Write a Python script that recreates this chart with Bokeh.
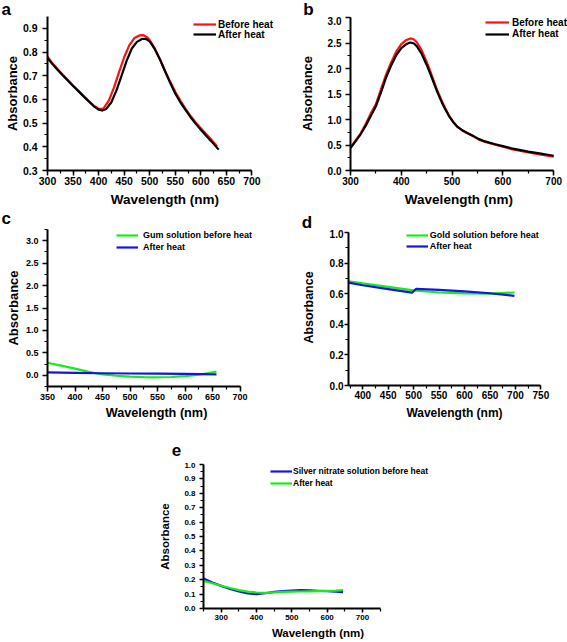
from bokeh.plotting import figure
from bokeh.models import (Range1d, SingleIntervalTicker, NumeralTickFormatter, Div,
                          Legend, LegendItem, Spacer)
from bokeh.layouts import row, column
from bokeh.embed import file_html
from bokeh.resources import INLINE

FONT = "Liberation Sans"

# ---------------- data ----------------
# Panel a
a_wl_before = [300, 310, 320, 330, 340, 350, 360, 370, 380, 390, 400, 405, 410, 420, 430, 440, 450,
               460, 470, 480, 488, 495, 500, 510, 520, 530, 540, 550, 560, 570, 580, 590, 600,
               610, 620, 632]
a_before = [0.781, 0.752, 0.727, 0.704, 0.682, 0.659, 0.638, 0.616, 0.595, 0.575, 0.561, 0.559,
            0.563, 0.595, 0.650, 0.715, 0.778, 0.828, 0.859, 0.870, 0.871, 0.862, 0.851, 0.815,
            0.768, 0.719, 0.676, 0.632, 0.595, 0.561, 0.530, 0.503, 0.478, 0.455, 0.432, 0.401]
a_wl_after = [300, 310, 320, 330, 340, 350, 360, 370, 380, 390, 400, 407, 415, 425, 435, 445, 455,
              465, 475, 485, 492, 500, 510, 520, 530, 540, 550, 560, 570, 580, 590, 600, 610,
              620, 635]
a_after = [0.774, 0.748, 0.724, 0.701, 0.679, 0.657, 0.636, 0.614, 0.593, 0.572, 0.557, 0.553,
           0.560, 0.588, 0.638, 0.700, 0.764, 0.815, 0.843, 0.855, 0.856, 0.845, 0.812, 0.770,
           0.720, 0.670, 0.625, 0.588, 0.556, 0.525, 0.498, 0.472, 0.448, 0.425, 0.388]

# Panel b
b_wl = [300, 320, 330, 340, 350, 360, 370, 380, 390, 400, 410, 418, 425, 431, 440, 450, 457, 465,
        470, 480, 486, 495, 503, 510, 520, 530, 540, 552, 565, 585, 600, 617, 635, 650, 675, 700]
b_before = [0.45, 0.73, 0.91, 1.12, 1.30, 1.59, 1.88, 2.12, 2.33, 2.48, 2.56, 2.59, 2.57, 2.51,
            2.36, 2.13, 1.95, 1.73, 1.59, 1.36, 1.23, 1.06, 0.94, 0.86, 0.785, 0.73, 0.68, 0.61,
            0.56, 0.505, 0.465, 0.42, 0.385, 0.355, 0.31, 0.27]
b_after = [0.44, 0.71, 0.88, 1.07, 1.26, 1.53, 1.82, 2.06, 2.26, 2.40, 2.48, 2.51, 2.49, 2.43,
           2.29, 2.07, 1.90, 1.69, 1.56, 1.33, 1.21, 1.05, 0.94, 0.86, 0.79, 0.735, 0.685, 0.62,
           0.57, 0.515, 0.477, 0.435, 0.40, 0.37, 0.33, 0.29]

# Panel c
c_wl_gum = [350, 375, 400, 425, 440, 450, 475, 500, 525, 545, 575, 600, 625, 645, 657]
c_gum_before = [0.28, 0.215, 0.15, 0.075, 0.04, 0.02, -0.01, -0.03, -0.042, -0.046, -0.038,
                -0.02, 0.012, 0.055, 0.085]
c_wl_after = [350, 400, 450, 500, 550, 600, 657]
c_after = [0.065, 0.055, 0.045, 0.04, 0.035, 0.03, 0.022]

# Panel d
d_wl_gold = [372, 400, 450, 500, 550, 600, 650, 698]
d_gold_before = [0.68, 0.668, 0.645, 0.622, 0.608, 0.602, 0.600, 0.608]
d_wl_after = [372, 400, 450, 497, 505, 550, 600, 650, 698]
d_after = [0.672, 0.655, 0.630, 0.607, 0.632, 0.625, 0.615, 0.603, 0.586]

# Panel e
e_wl = [250, 275, 300, 325, 350, 375, 400, 425, 450, 475, 500, 525, 550, 575, 600, 625, 645]
e_silver_before = [0.208, 0.18, 0.157, 0.135, 0.118, 0.105, 0.10, 0.106, 0.115, 0.121, 0.125,
                   0.127, 0.126, 0.123, 0.12, 0.117, 0.114]
e_after = [0.192, 0.175, 0.158, 0.142, 0.128, 0.117, 0.111, 0.109, 0.112, 0.115, 0.117, 0.118,
           0.119, 0.12, 0.122, 0.124, 0.127]

RED = "#ff1010"
BLACK = "#000000"
GREEN = "#18ec18"
BLUE = "#1414e8"


def make_panel(width, height, xr, yr, xbounds, ybounds, borders, xint, yint, tick_fs, xlab_fs,
               ylab_fs, x_std, x_lab_std, y_std, y_lab_std, tick_out=5):
    l, r, t, b = borders
    p = figure(width=width, height=height, x_range=Range1d(*xr), y_range=Range1d(*yr),
               output_backend="svg", toolbar_location=None, frame_align=False,
               min_border_left=l, min_border_right=r, min_border_top=t, min_border_bottom=b)
    p.outline_line_color = None
    p.grid.visible = False
    p.xaxis.ticker = SingleIntervalTicker(interval=xint, num_minor_ticks=2)
    p.yaxis.ticker = SingleIntervalTicker(interval=yint, num_minor_ticks=2)
    p.yaxis.formatter = NumeralTickFormatter(format="0.0")
    p.xaxis.formatter = NumeralTickFormatter(format="0")
    p.xaxis.bounds = xbounds
    p.yaxis.bounds = ybounds
    for ax in (p.xaxis, p.yaxis):
        ax.axis_line_width = 2
        ax.axis_line_color = "black"
        ax.major_tick_line_width = 1.5
        ax.minor_tick_line_width = 1.2
        ax.major_tick_in = 0
        ax.major_tick_out = tick_out
        ax.minor_tick_in = 0
        ax.minor_tick_out = 3
        ax.major_label_text_font = FONT
        ax.major_label_text_font_style = "bold"
        ax.major_label_text_font_size = tick_fs
        ax.major_label_text_color = "black"
        ax.axis_label_text_font = FONT
        ax.axis_label_text_font_style = "bold"
        ax.axis_label_text_color = "black"
    p.xaxis.axis_label = "Wavelength (nm)"
    p.yaxis.axis_label = "Absorbance"
    p.xaxis.axis_label_text_font_size = xlab_fs
    p.yaxis.axis_label_text_font_size = ylab_fs
    p.xaxis.major_label_standoff = x_std
    p.xaxis.axis_label_standoff = x_lab_std
    p.yaxis.major_label_standoff = y_std
    p.yaxis.axis_label_standoff = y_lab_std
    return p


def add_legend(p, items, x, ys, glyph_w, standoff, fs):
    for (lab, rend), y in zip(items, ys):
        lg = Legend(items=[LegendItem(label=lab, renderers=[rend])], location=(x, y))
        lg.border_line_color = None
        lg.background_fill_alpha = 0
        lg.padding = 0
        lg.spacing = 0
        lg.margin = 0
        lg.glyph_width = glyph_w
        lg.glyph_height = 12
        lg.label_height = 12
        lg.label_standoff = standoff
        lg.label_text_font = FONT
        lg.label_text_font_style = "bold"
        lg.label_text_font_size = fs
        lg.label_text_color = "black"
        p.add_layout(lg)


def strip(width, height, letter, left, top):
    html = ('<div style="margin:0;padding:0;margin-left:%.1fpx;margin-top:%.1fpx;'
            'font-family:\'Liberation Sans\';font-weight:bold;font-size:17px;'
            'line-height:10px;color:black;">%s</div>' % (left, top, letter))
    return Div(text=html, width=width, height=height, margin=0)


# ---------------- row 1 (panels a, b) ----------------
sa = strip(285, 16, "a", 1.5, 4.6)
pa = make_panel(285, 196, (300, 759.9), (0.3, 0.95), (300, 700), (0.3, 0.95), (47, 3, 0, 42),
                50, 0.1, "10.5px", "13.5px", "13px", 1, 4, 5, 0)
ra1 = pa.line(a_wl_before, a_before, line_color=RED, line_width=2.2, line_join="round")
ra2 = pa.line(a_wl_after, a_after, line_color=BLACK, line_width=2.2, line_join="round")
add_legend(pa, [("Before heat", ra1), ("After heat", ra2)], 146, [140, 130], 23, 2, "10px")

sb = strip(282, 16, "b", 18.3, 4.6)
pb = make_panel(282, 196, (300, 727.2), (0.0, 3.02), (300, 700), (0.0, 3.0), (65, 0, 0, 42),
                100, 0.5, "10px", "13.5px", "13px", 1, 4, 4, 10)
rb1 = pb.line(b_wl, b_before, line_color=RED, line_width=2.2, line_join="round")
rb2 = pb.line(b_wl, b_after, line_color=BLACK, line_width=2.2, line_join="round")
add_legend(pb, [("Before heat", rb1), ("After heat", rb2)], 135, [142, 130.5], 24, 3, "10px")

# ---------------- row 2 (panels c, d) ----------------
sc = strip(285, 17, "c", 1.5, 0.6)
pc = make_panel(285, 196, (350, 746.1), (-0.25, 3.25), (350, 700), (-0.25, 3.25), (47, 20, 0, 39),
                50, 0.5, "9px", "12.7px", "13px", 2, 3, 4, 2)
rc1 = pc.line(c_wl_gum, c_gum_before, line_color=GREEN, line_width=2.2, line_join="round")
rc2 = pc.line(c_wl_after, c_after, line_color=BLUE, line_width=2.2, line_join="round")
add_legend(pc, [("Gum solution before heat", rc1), ("After heat", rc2)], 69, [145, 133.3], 22, 5, "9px")

sd = strip(282, 17, "d", 16.7, 5.6)
pd_ = make_panel(282, 196, (372, 788.5), (0.0, 1.0196), (372, 750), (0.0, 1.0), (63, 7, 0, 40),
                 50, 0.2, "10px", "12px", "12.5px", 1, 4, 1, 11, tick_out=4)
rd1 = pd_.line(d_wl_gold, d_gold_before, line_color=GREEN, line_width=2.2, line_join="round")
rd2 = pd_.line(d_wl_after, d_after, line_color=BLUE, line_width=2.2, line_join="round")
add_legend(pd_, [("Gold solution before heat", rd1), ("After heat", rd2)], 57.7, [144, 133], 22, 2, "9px")

# ---------------- row 3 (panel e) ----------------
se = strip(300, 37, "e", 31.7, 20.8)
pe = make_panel(300, 180, (250, 898.2), (0.0, 1.0), (250, 750), (0.0, 1.0), (63, 8, 2, 34),
                100, 0.1, "8px", "11.5px", "11.5px", 2, 4, 4, 10, tick_out=4)
re1 = pe.line(e_wl, e_silver_before, line_color=BLUE, line_width=2.2, line_join="round")
re2 = pe.line(e_wl, e_after, line_color=GREEN, line_width=2.2, line_join="round")
add_legend(pe, [("Silver nitrate solution before heat", re1), ("After heat", re2)], 67, [131, 119.3],
           22, 1, "8.5px")

layout = column(
    row(column(sa, pa), column(sb, pb)),
    row(column(sc, pc), column(sd, pd_)),
    row(Spacer(width=140, height=217), column(se, pe)),
)

open("out.html", "w").write(file_html(layout, INLINE))
